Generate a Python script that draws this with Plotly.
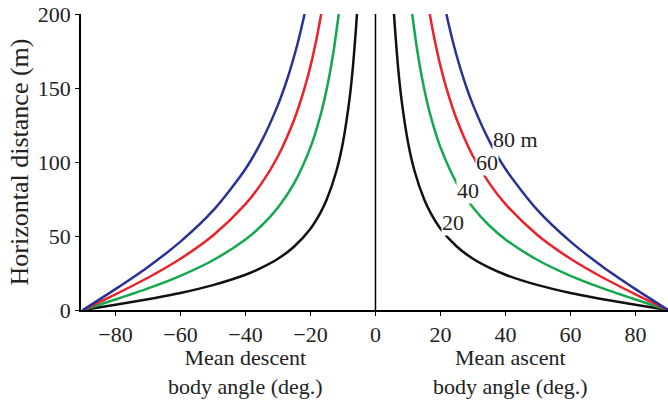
import plotly.graph_objects as go

# Body angle (deg.) at which each curve was read, with horizontal distance (m)
angle_20 = [90, 80, 70, 60, 50, 40, 35, 30, 25, 20, 17, 15, 12, 10, 8, 7, 6, 5.7]
dist_20 = [0, 3.5, 7.3, 11.5, 16.8, 23.8, 28.6, 34.6, 42.9, 54.9, 65.4, 74.6, 94.1, 113.4, 142.3, 162.9, 190.3, 200]

angle_40 = [90, 80, 70, 60, 50, 40, 35, 30, 25, 20, 17, 15, 13, 11.3]
dist_40 = [0, 7.1, 14.6, 23.1, 33.6, 47.7, 57.1, 69.3, 85.8, 109.9, 130.8, 149.3, 173.3, 200]

angle_60 = [90, 80, 70, 60, 50, 40, 35, 30, 25, 22, 20, 18, 16.7]
dist_60 = [0, 10.6, 21.8, 34.6, 50.3, 71.5, 85.7, 103.9, 128.7, 148.5, 164.8, 184.7, 200]

angle_80 = [90, 80, 70, 60, 50, 40, 35, 30, 27, 24, 21.8]
dist_80 = [0, 14.1, 29.1, 46.2, 67.1, 95.3, 114.3, 138.6, 157.0, 179.7, 200]

depth_labels = ["20", "40", "60", "80 m"]
label_x = [23.8, 28.4, 34.2, 43.0]
label_y = [59, 81, 100, 115]

series = [
    (angle_20, dist_20, "#111111"),
    (angle_40, dist_40, "#12a84b"),
    (angle_60, dist_60, "#e8232b"),
    (angle_80, dist_80, "#2b3193"),
]

FONT = "Times New Roman, Liberation Serif, serif"
TXT = "#222"

fig = go.Figure()
for ang, dist, col in series:
    fig.add_trace(go.Scatter(x=[-a for a in ang], y=dist, mode="lines",
                             line=dict(color=col, width=2.5, shape="spline", smoothing=0.8),
                             showlegend=False, hoverinfo="skip"))
    fig.add_trace(go.Scatter(x=ang, y=dist, mode="lines",
                             line=dict(color=col, width=2.5, shape="spline", smoothing=0.8),
                             showlegend=False, hoverinfo="skip"))

fig.add_shape(type="line", x0=0, x1=0, y0=0, y1=200, xref="x", yref="y",
              line=dict(color="black", width=1.5))

for t, x, y in zip(depth_labels, label_x, label_y):
    fig.add_annotation(x=x, y=y, text=t, showarrow=False, bgcolor="white",
                       font=dict(family=FONT, size=22, color=TXT), borderpad=0)

fig.add_annotation(x=-40, y=0, yref="y", text="Mean descent<br>body angle (deg.)",
                   showarrow=False, yshift=-62, font=dict(family=FONT, size=22, color=TXT))
fig.add_annotation(x=41.5, y=0, yref="y", text="Mean ascent<br>body angle (deg.)",
                   showarrow=False, yshift=-62, font=dict(family=FONT, size=22, color=TXT))

fig.update_layout(
    width=668, height=402,
    margin=dict(l=81, r=0, t=14, b=92),
    paper_bgcolor="white", plot_bgcolor="white",
    font=dict(family=FONT, size=22, color=TXT),
    xaxis=dict(range=[-90.6, 90], tickvals=[-80, -60, -40, -20, 0, 20, 40, 60, 80],
               showgrid=False, zeroline=False, showline=True, linecolor="black", linewidth=1.5,
               ticks="outside", ticklen=4, tickcolor="black", tickwidth=1.2),
    yaxis=dict(range=[0, 200], tickvals=[0, 50, 100, 150, 200],
               title=dict(text="Horizontal distance (m)", standoff=2),
               showgrid=False, zeroline=False, showline=True, linecolor="black", linewidth=1.5,
               ticks="outside", ticklen=4, tickcolor="black", tickwidth=1.2),
)

fig.write_html("out.html", config={"displayModeBar": False},
               post_script="document.body.style.margin='0';")
